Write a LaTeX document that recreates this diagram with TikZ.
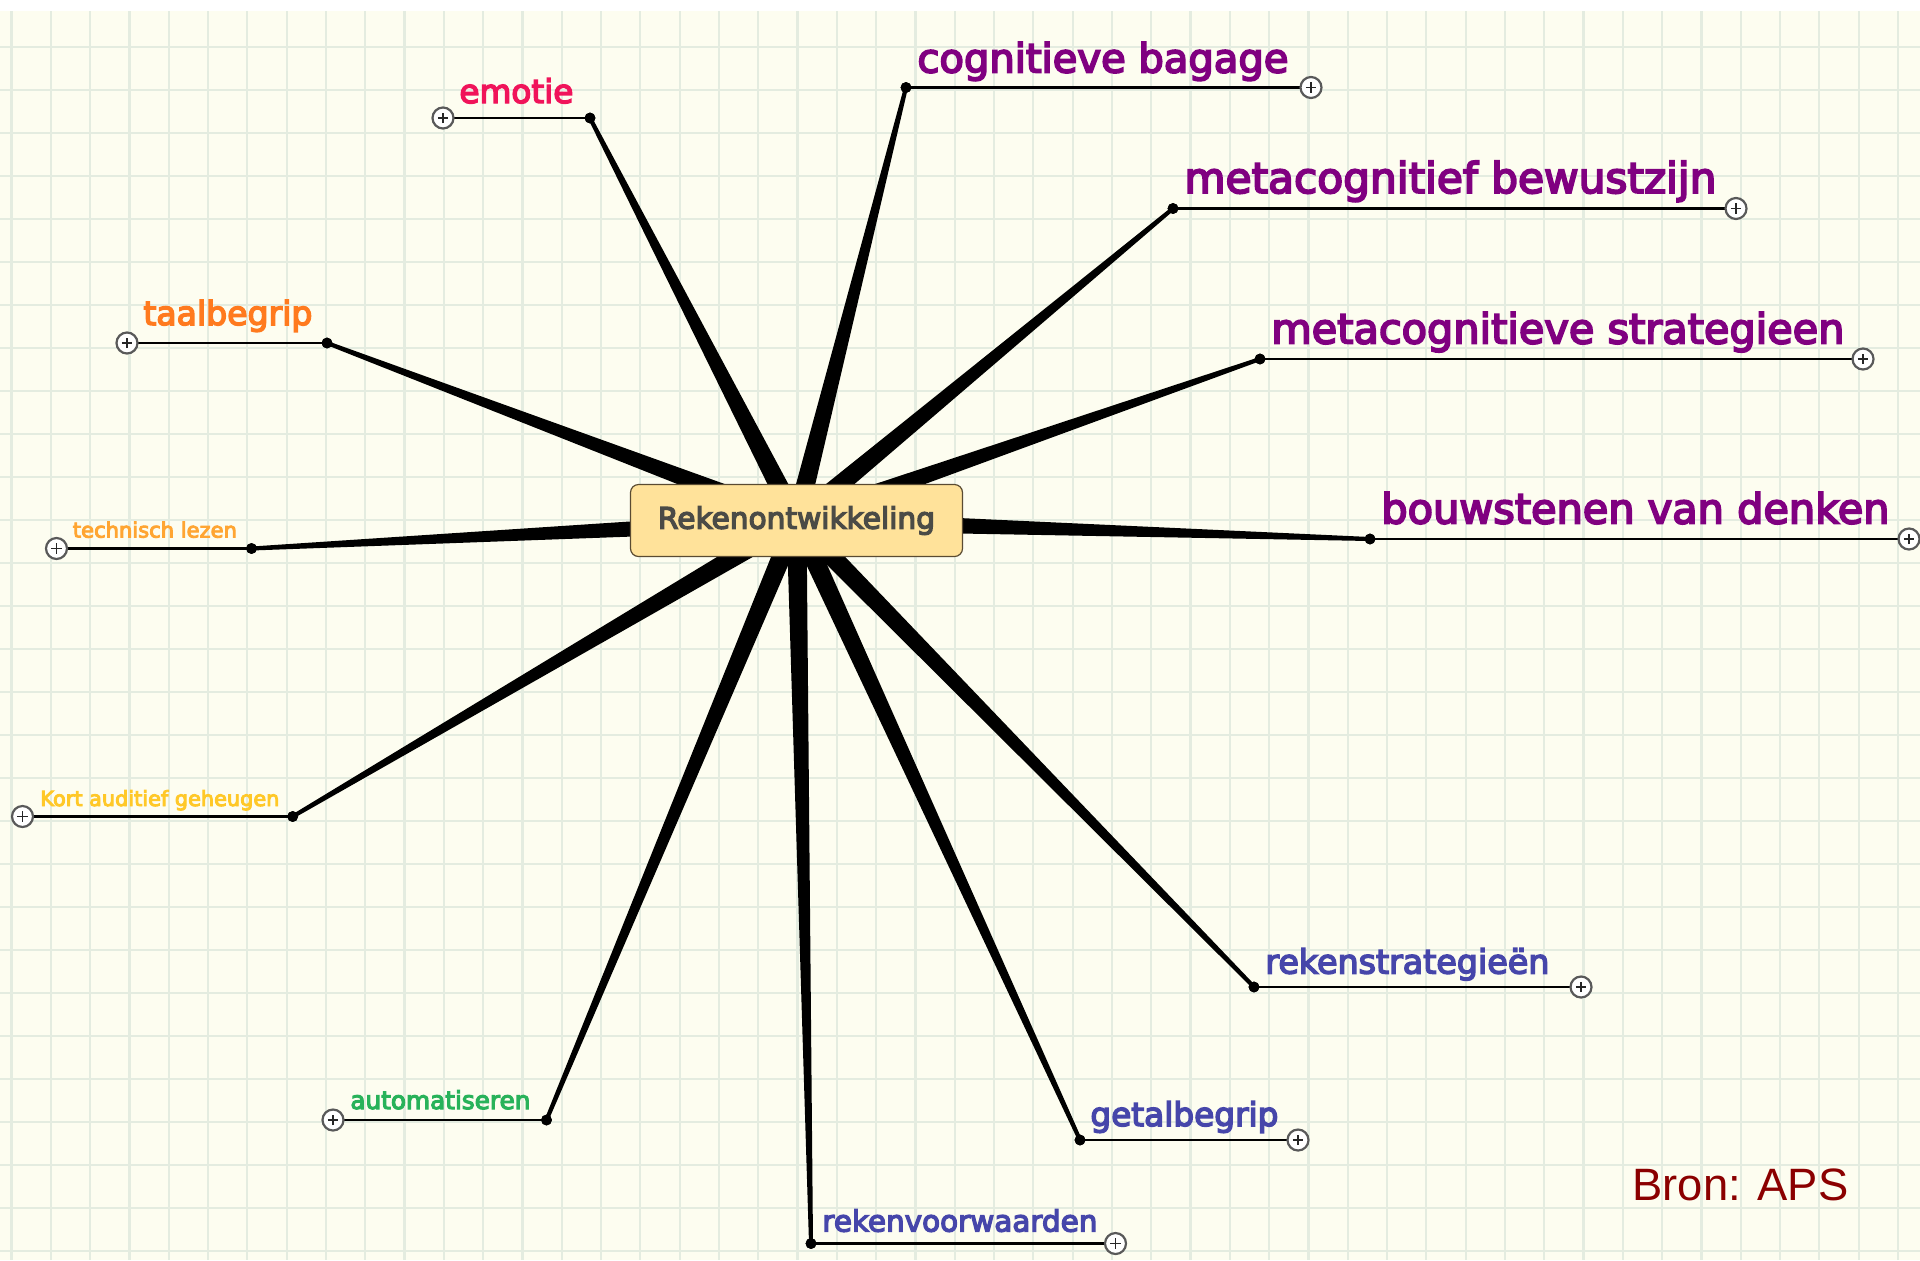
\documentclass[tikz,border=0pt]{standalone}
\usepackage{fontspec}
\setmainfont{DejaVu Sans}
\font\mapfont="DejaVu Sans:embolden=4.5" at 10pt
\newfontfamily\bronfont{Liberation Sans}
\usepackage{graphicx}
\usetikzlibrary{calc}

\definecolor{paper}{RGB}{253,253,240}
\definecolor{gridc}{RGB}{228,236,224}
\definecolor{emo}{RGB}{240,20,90}
\definecolor{purp}{RGB}{128,0,128}
\definecolor{orng}{RGB}{255,122,30}
\definecolor{lorng}{RGB}{255,165,50}
\definecolor{yorng}{RGB}{255,200,40}
\definecolor{grn}{RGB}{40,178,90}
\definecolor{slate}{RGB}{70,70,170}
\definecolor{boxfill}{RGB}{255,226,154}
\definecolor{boxline}{RGB}{90,75,50}
\definecolor{hubtext}{RGB}{75,75,70}
\definecolor{bron}{RGB}{139,0,0}

% text scaled to a given width (in picture units)
\newcommand\fitw[2]{\resizebox{\dimexpr #1pt/2\relax}{!}{\mapfont #2}}
% tapered spoke from the hub to a branch dot
\newcommand\spoke[2]{\fill[black] ($(#1)!5pt!90:(#2)$) -- ($(#2)!1pt!-90:(#1)$) -- ($(#2)!1pt!90:(#1)$) -- ($(#1)!5pt!-90:(#2)$) -- cycle;}

\begin{document}
\begin{tikzpicture}[x=0.5pt,y=-0.5pt,
  gridline/.style={draw=gridc,line width=1.1pt},
  dotn/.style={circle,fill=black,inner sep=0pt,minimum size=5.4pt},
  plusn/.style={circle,draw=black!65,fill=white,line width=1.1pt,inner sep=0pt,minimum size=10.5pt,
    path picture={\draw[black!85,line width=0.6pt]
      ([xshift=-2.6pt]path picture bounding box.center) -- ([xshift=2.6pt]path picture bounding box.center)
      ([yshift=-2.6pt]path picture bounding box.center) -- ([yshift=2.6pt]path picture bounding box.center);}},
  branch/.style={draw=black,line width=1.3pt},
  lab/.style={anchor=base west,inner sep=0pt},
  hub/.style={rounded corners=4pt,draw=boxline,fill=boxfill,line width=0.6pt,
    minimum width=166pt,minimum height=36pt,inner sep=0pt,text=hubtext}]

% paper and grid
\fill[paper] (0,0) rectangle (1920,1260);
\fill[white] (0,0) rectangle (1920,11);
\useasboundingbox (0,0) rectangle (1920,1260);
\foreach \k in {0,...,48} \draw[gridline] ({11.5+39.3*\k},11) -- ({11.5+39.3*\k},1260);
\foreach \k in {0,...,28} \draw[gridline] (0,{46.7+43*\k}) -- (1920,{46.7+43*\k});

% hub position
\coordinate (c) at (796.5,520.5);

% branch dots
\node[dotn] (d1) at (590,118) {};
\node[dotn] (d2) at (906,87.5) {};
\node[dotn] (d3) at (1173,208.5) {};
\node[dotn] (d4) at (1260,359) {};
\node[dotn] (d5) at (1370,539) {};
\node[dotn] (d6) at (327,343) {};
\node[dotn] (d7) at (251.5,548.5) {};
\node[dotn] (d8) at (292.7,816.5) {};
\node[dotn] (d9) at (546.5,1120) {};
\node[dotn] (d10) at (811,1243.5) {};
\node[dotn] (d11) at (1080,1140) {};
\node[dotn] (d12) at (1254,987) {};

% spokes
\foreach \d in {d1,d2,d3,d4,d5,d6,d7,d8,d9,d10,d11,d12} {\spoke{c}{\d.center}}

% expand buttons at the far end of each branch
\coordinate (q1) at (443,118);
\coordinate (q2) at (1311,87.5);
\coordinate (q3) at (1736,208.5);
\coordinate (q4) at (1863,359);
\coordinate (q5) at (1909,539);
\coordinate (q6) at (127,343);
\coordinate (q7) at (56.5,548.5);
\coordinate (q8) at (22.5,816.5);
\coordinate (q9) at (333,1120);
\coordinate (q10) at (1115.5,1243.5);
\coordinate (q11) at (1298,1140);
\coordinate (q12) at (1581,987);
\foreach \i in {1,...,12} {
  \draw[branch] (d\i.center) -- (q\i);
  \node[plusn] (p\i) at (q\i) {};
  \node[dotn] at (d\i) {};
}

% hub
\node[hub] (hub) at (c) {\fitw{277}{Rekenontwikkeling}};

% branch labels
\node[lab,text=emo]   (t1)  at (459,103)    {\fitw{114}{emotie}};
\node[lab,text=purp]  (t2)  at (917,72.5)   {\fitw{371}{cognitieve bagage}};
\node[lab,text=purp]  (t3)  at (1184,193)   {\fitw{532}{metacognitief bewustzijn}};
\node[lab,text=purp]  (t4)  at (1271,343.5) {\fitw{573}{metacognitieve strategieen}};
\node[lab,text=purp]  (t5)  at (1381,523.5) {\fitw{508}{bouwstenen van denken}};
\node[lab,text=orng]  (t6)  at (143,325)    {\fitw{169}{taalbegrip}};
\node[lab,text=lorng] (t7)  at (72.5,537.5) {\fitw{164}{technisch lezen}};
\node[lab,text=yorng] (t8)  at (40,806)     {\fitw{239}{Kort auditief geheugen}};
\node[lab,text=grn]   (t9)  at (350,1109)   {\fitw{180}{automatiseren}};
\node[lab,text=slate] (t10) at (822,1231.5) {\fitw{275}{rekenvoorwaarden}};
\node[lab,text=slate] (t11) at (1090,1126)  {\fitw{188}{getalbegrip}};
\node[lab,text=slate] (t12) at (1265,973.5) {\fitw{284}{rekenstrategieën}};

% source note
\node[lab,text=bron] (src) at (1632,1200) {\resizebox{108pt}{!}{\bronfont Bron: APS}};
\end{tikzpicture}
\end{document}
